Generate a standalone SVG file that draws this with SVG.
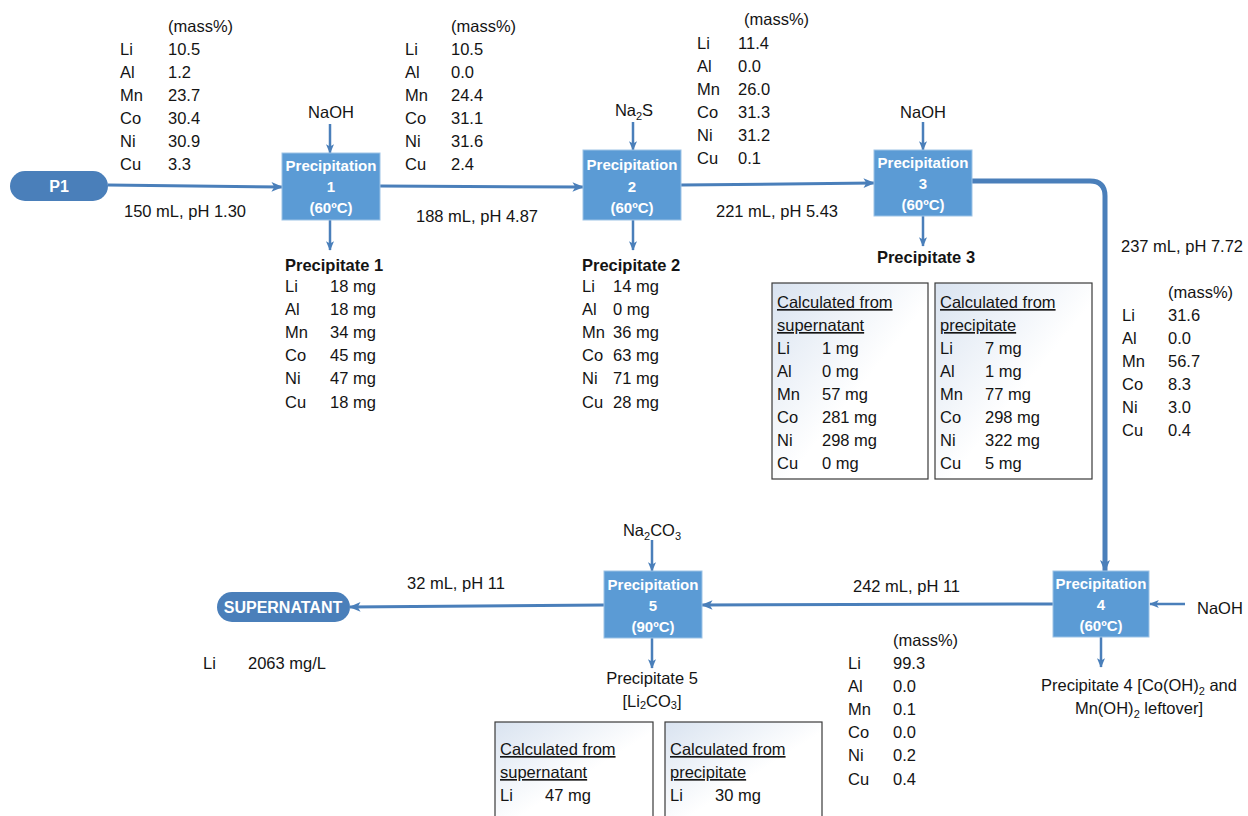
<svg xmlns="http://www.w3.org/2000/svg" width="1248" height="816" viewBox="0 0 1248 816">
  <style>
    text { font-family: "Liberation Sans", Arial, sans-serif; font-size: 16.5px; fill: #141414; }
    .b { font-weight: bold; }
    .box { fill: #5b9bd5; stroke: #9dc3e6; stroke-width: 1; }
    .boxt { fill: #ffffff; font-weight: bold; font-size: 15px; text-anchor: middle; }
    .pill { fill: #4a7fba; }
    .pillt { fill: #ffffff; font-weight: bold; font-size: 16px; text-anchor: middle; }
    .flow { stroke: #4a7fba; stroke-width: 3; fill: none; marker-end: url(#ah); }
    .feed { stroke: #4a7fba; stroke-width: 2.5; fill: none; marker-end: url(#ah); }
    .tbl { fill: url(#tg); stroke: #3a3a3a; stroke-width: 1.2; }
    .u { text-decoration: underline; }
    .c { text-anchor: middle; }
    .sub { font-size: 11px; }
  </style>
  <defs>
    <marker id="ah" viewBox="0 0 12 10" refX="11" refY="5" markerWidth="4.2" markerHeight="3.2" markerUnits="strokeWidth" orient="auto">
      <path d="M0,0 L12,5 L0,10 L3,5 Z" fill="#4a7fba"/>
    </marker>
    <marker id="ah2" viewBox="0 0 12 10" refX="11" refY="5" markerWidth="2.6" markerHeight="2" markerUnits="strokeWidth" orient="auto">
      <path d="M0,0 L12,5 L0,10 L3,5 Z" fill="#4a7fba"/>
    </marker>
    <linearGradient id="tg" x1="0" y1="0" x2="1" y2="1">
      <stop offset="0" stop-color="#d9e3f0"/>
      <stop offset="0.55" stop-color="#ffffff"/>
      <stop offset="1" stop-color="#ffffff"/>
    </linearGradient>
  </defs>

  <!-- connectors -->
  <g id="connectors">
    <path class="flow" d="M108,185 L282,187"/>
    <path class="feed" d="M330,124 L330,153"/>
    <path class="feed" d="M330,220 L330,250"/>
    <path class="flow" d="M380,186 L583,187"/>
    <path class="feed" d="M633,122 L633,150"/>
    <path class="feed" d="M633,220 L633,250"/>
    <path class="flow" d="M681,185 L874,183"/>
    <path class="feed" d="M923,122 L923,150"/>
    <path class="feed" d="M923,216 L923,246"/>
    <path d="M972,181 L1090,181 Q1105,181 1105,196 L1105,571" stroke="#4a7fba" stroke-width="5" fill="none" marker-end="url(#ah2)"/>
    <path class="feed" d="M1185,604 L1150,604"/>
    <path class="feed" d="M1101,637 L1101,667"/>
    <path class="flow" d="M1053,604 L702,605"/>
    <path class="feed" d="M652,540 L652,571"/>
    <path class="feed" d="M652,638 L652,668"/>
    <path class="flow" d="M604,605 L350,607"/>
  </g>

  <!-- P1 -->
  <g id="p1">
    <rect class="pill" x="10" y="171" width="98" height="30" rx="15"/>
    <text class="pillt" x="59" y="192">P1</text>
  </g>

  <!-- feed composition -->
  <g id="feed-comp">
    <text x="168" y="32">(mass%)</text>
    <text x="120" y="55">Li</text><text x="168" y="55">10.5</text>
    <text x="120" y="78">Al</text><text x="168" y="78">1.2</text>
    <text x="120" y="101">Mn</text><text x="168" y="101">23.7</text>
    <text x="120" y="124">Co</text><text x="168" y="124">30.4</text>
    <text x="120" y="147">Ni</text><text x="168" y="147">30.9</text>
    <text x="120" y="170">Cu</text><text x="168" y="170">3.3</text>
    <text x="124" y="217">150 mL, pH 1.30</text>
  </g>

  <!-- Precipitation 1 -->
  <g id="precip1">
    <text class="c" x="331" y="118">NaOH</text>
    <rect class="box" x="282" y="153" width="98" height="67"/>
    <text class="boxt" x="331" y="171">Precipitation</text>
    <text class="boxt" x="331" y="192">1</text>
    <text class="boxt" x="331" y="213">(60ºC)</text>
    <text class="b" x="285" y="271">Precipitate 1</text>
    <text x="285" y="292">Li</text><text x="330" y="292">18 mg</text>
    <text x="285" y="315">Al</text><text x="330" y="315">18 mg</text>
    <text x="285" y="338">Mn</text><text x="330" y="338">34 mg</text>
    <text x="285" y="361">Co</text><text x="330" y="361">45 mg</text>
    <text x="285" y="384">Ni</text><text x="330" y="384">47 mg</text>
    <text x="285" y="408">Cu</text><text x="330" y="408">18 mg</text>
  </g>

  <!-- stream after 1 -->
  <g id="stream1">
    <text x="451" y="32">(mass%)</text>
    <text x="405" y="55">Li</text><text x="451" y="55">10.5</text>
    <text x="405" y="78">Al</text><text x="451" y="78">0.0</text>
    <text x="405" y="101">Mn</text><text x="451" y="101">24.4</text>
    <text x="405" y="124">Co</text><text x="451" y="124">31.1</text>
    <text x="405" y="147">Ni</text><text x="451" y="147">31.6</text>
    <text x="405" y="170">Cu</text><text x="451" y="170">2.4</text>
    <text x="416" y="222">188 mL, pH 4.87</text>
  </g>

  <!-- Precipitation 2 -->
  <g id="precip2">
    <text class="c" x="634" y="116">Na<tspan class="sub" dy="4">2</tspan><tspan dy="-4">S</tspan></text>
    <rect class="box" x="583" y="150" width="98" height="70"/>
    <text class="boxt" x="632" y="170">Precipitation</text>
    <text class="boxt" x="632" y="192">2</text>
    <text class="boxt" x="632" y="213">(60ºC)</text>
    <text class="b" x="582" y="271">Precipitate 2</text>
    <text x="582" y="292">Li</text><text x="613" y="292">14 mg</text>
    <text x="582" y="315">Al</text><text x="613" y="315">0 mg</text>
    <text x="582" y="338">Mn</text><text x="613" y="338">36 mg</text>
    <text x="582" y="361">Co</text><text x="613" y="361">63 mg</text>
    <text x="582" y="384">Ni</text><text x="613" y="384">71 mg</text>
    <text x="582" y="408">Cu</text><text x="613" y="408">28 mg</text>
  </g>

  <!-- stream after 2 -->
  <g id="stream2">
    <text x="744" y="25">(mass%)</text>
    <text x="697" y="49">Li</text><text x="738" y="49">11.4</text>
    <text x="697" y="72">Al</text><text x="738" y="72">0.0</text>
    <text x="697" y="95">Mn</text><text x="738" y="95">26.0</text>
    <text x="697" y="118">Co</text><text x="738" y="118">31.3</text>
    <text x="697" y="141">Ni</text><text x="738" y="141">31.2</text>
    <text x="697" y="164">Cu</text><text x="738" y="164">0.1</text>
    <text x="716" y="217">221 mL, pH 5.43</text>
  </g>

  <!-- Precipitation 3 -->
  <g id="precip3">
    <text class="c" x="923" y="118">NaOH</text>
    <rect class="box" x="874" y="150" width="98" height="66"/>
    <text class="boxt" x="923" y="168">Precipitation</text>
    <text class="boxt" x="923" y="189">3</text>
    <text class="boxt" x="923" y="210">(60ºC)</text>
    <text class="b c" x="926" y="263">Precipitate 3</text>
    <rect class="tbl" x="772" y="283" width="156" height="196"/>
    <text class="u" x="777" y="308">Calculated from</text>
    <text class="u" x="777" y="331">supernatant</text>
    <text x="777" y="354">Li</text><text x="822" y="354">1 mg</text>
    <text x="777" y="377">Al</text><text x="822" y="377">0 mg</text>
    <text x="777" y="400">Mn</text><text x="822" y="400">57 mg</text>
    <text x="777" y="423">Co</text><text x="822" y="423">281 mg</text>
    <text x="777" y="446">Ni</text><text x="822" y="446">298 mg</text>
    <text x="777" y="469">Cu</text><text x="822" y="469">0 mg</text>
    <rect class="tbl" x="935" y="283" width="157" height="196"/>
    <text class="u" x="940" y="308">Calculated from</text>
    <text class="u" x="940" y="331">precipitate</text>
    <text x="940" y="354">Li</text><text x="985" y="354">7 mg</text>
    <text x="940" y="377">Al</text><text x="985" y="377">1 mg</text>
    <text x="940" y="400">Mn</text><text x="985" y="400">77 mg</text>
    <text x="940" y="423">Co</text><text x="985" y="423">298 mg</text>
    <text x="940" y="446">Ni</text><text x="985" y="446">322 mg</text>
    <text x="940" y="469">Cu</text><text x="985" y="469">5 mg</text>
  </g>

  <!-- stream after 3 -->
  <g id="stream3">
    <text x="1121" y="252">237 mL, pH 7.72</text>
    <text x="1168" y="298">(mass%)</text>
    <text x="1122" y="321">Li</text><text x="1168" y="321">31.6</text>
    <text x="1122" y="344">Al</text><text x="1168" y="344">0.0</text>
    <text x="1122" y="367">Mn</text><text x="1168" y="367">56.7</text>
    <text x="1122" y="390">Co</text><text x="1168" y="390">8.3</text>
    <text x="1122" y="413">Ni</text><text x="1168" y="413">3.0</text>
    <text x="1122" y="436">Cu</text><text x="1168" y="436">0.4</text>
  </g>

  <!-- Precipitation 4 -->
  <g id="precip4">
    <text x="1197" y="614">NaOH</text>
    <rect class="box" x="1053" y="571" width="96" height="66"/>
    <text class="boxt" x="1101" y="589">Precipitation</text>
    <text class="boxt" x="1101" y="610">4</text>
    <text class="boxt" x="1101" y="631">(60ºC)</text>
    <text class="c" x="1139" y="691">Precipitate 4 [Co(OH)<tspan class="sub" dy="4">2</tspan><tspan dy="-4"> and</tspan></text>
    <text class="c" x="1139" y="714">Mn(OH)<tspan class="sub" dy="4">2</tspan><tspan dy="-4"> leftover]</tspan></text>
  </g>

  <!-- stream after 4 -->
  <g id="stream4">
    <text x="853" y="592">242 mL, pH 11</text>
    <text x="893" y="646">(mass%)</text>
    <text x="848" y="669">Li</text><text x="893" y="669">99.3</text>
    <text x="848" y="692">Al</text><text x="893" y="692">0.0</text>
    <text x="848" y="715">Mn</text><text x="893" y="715">0.1</text>
    <text x="848" y="738">Co</text><text x="893" y="738">0.0</text>
    <text x="848" y="761">Ni</text><text x="893" y="761">0.2</text>
    <text x="848" y="785">Cu</text><text x="893" y="785">0.4</text>
  </g>

  <!-- Precipitation 5 -->
  <g id="precip5">
    <text class="c" x="652" y="536">Na<tspan class="sub" dy="4">2</tspan><tspan dy="-4">CO</tspan><tspan class="sub" dy="4">3</tspan></text>
    <rect class="box" x="604" y="571" width="98" height="67"/>
    <text class="boxt" x="653" y="590">Precipitation</text>
    <text class="boxt" x="653" y="611">5</text>
    <text class="boxt" x="653" y="632">(90ºC)</text>
    <text class="c" x="652" y="684">Precipitate 5</text>
    <text class="c" x="652" y="707">[Li<tspan class="sub" dy="2">2</tspan><tspan dy="-2">CO</tspan><tspan class="sub" dy="2">3</tspan><tspan dy="-2">]</tspan></text>
    <rect class="tbl" x="495" y="722" width="158" height="100"/>
    <text class="u" x="500" y="755">Calculated from</text>
    <text class="u" x="500" y="778">supernatant</text>
    <text x="500" y="801">Li</text><text x="545" y="801">47 mg</text>
    <rect class="tbl" x="665" y="722" width="157" height="100"/>
    <text class="u" x="670" y="755">Calculated from</text>
    <text class="u" x="670" y="778">precipitate</text>
    <text x="670" y="801">Li</text><text x="715" y="801">30 mg</text>
  </g>

  <!-- Supernatant -->
  <g id="supernatant">
    <text x="407" y="589">32 mL, pH 11</text>
    <rect class="pill" x="217" y="592" width="133" height="30" rx="15"/>
    <text class="pillt" x="283" y="613">SUPERNATANT</text>
    <text x="203" y="669">Li</text><text x="248" y="669">2063 mg/L</text>
  </g>
</svg>
